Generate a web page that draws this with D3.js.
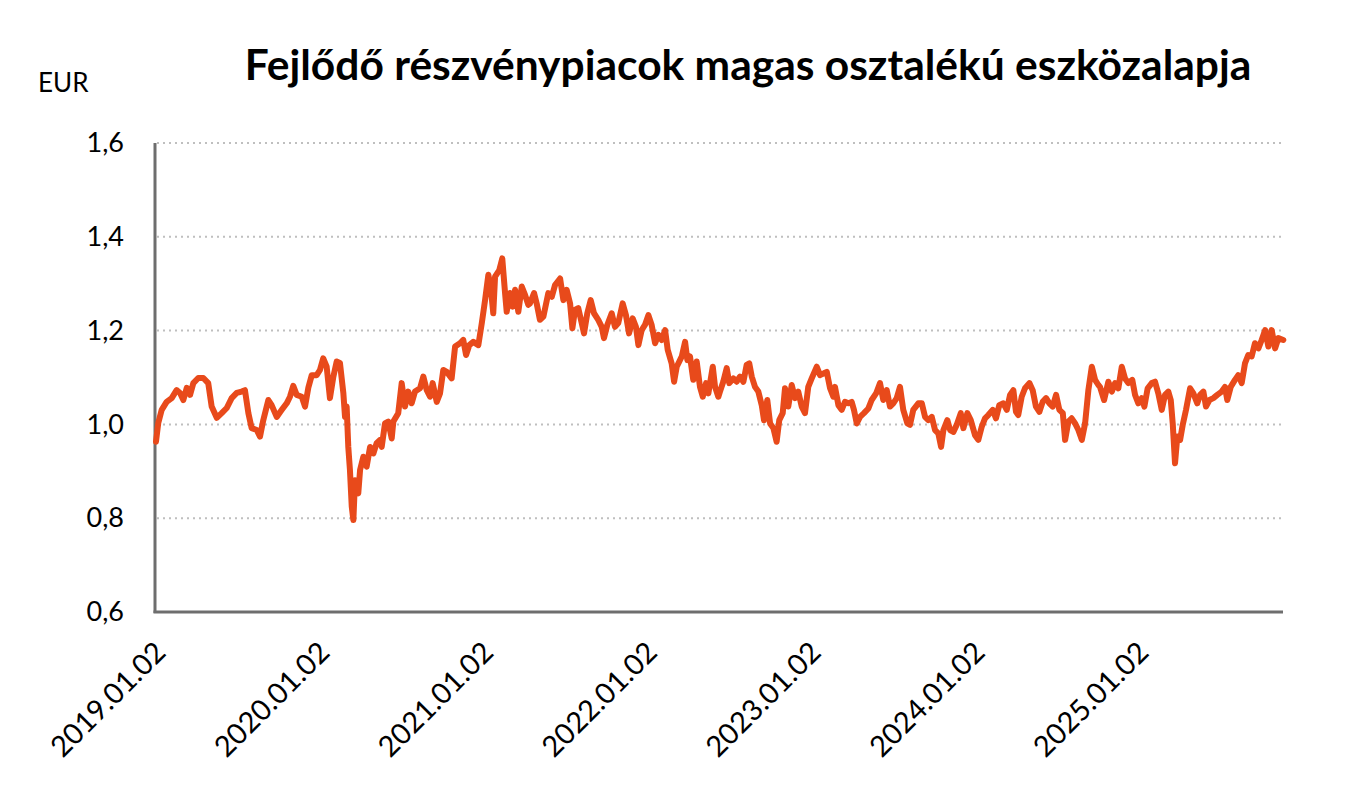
<!DOCTYPE html>
<html>
<head>
<meta charset="utf-8">
<script src="https://cdn.jsdelivr.net/npm/d3@7"></script>
<style>
  html, body { margin: 0; padding: 0; background: #ffffff; }
  svg { display: block; }
  text { font-family: Lato, "Open Sans", "Liberation Sans", sans-serif; fill: #000; }
</style>
</head>
<body>
<svg id="chart" width="1367" height="794"></svg>
<script>
// ---- data ----
const titleText = "Fejlődő részvénypiacok magas osztalékú eszközalapja";
const unitLabel = "EUR";
const startYear = 2019; // 2019.01.02
// time in years since 2019.01.02
const t = [
0.006,0.020,0.041,0.071,0.102,0.132,0.153,0.173,0.194,0.214,0.234,0.264,0.295,0.325,0.346,0.377,0.407,0.438,0.468,0.499,
0.529,0.549,0.570,0.590,0.621,0.641,0.661,0.692,0.712,0.743,0.774,0.804,0.824,0.844,0.865,0.896,0.916,0.936,0.957,0.987,
1.007,1.027,1.048,1.068,1.089,1.109,1.129,1.150,1.160,1.170,1.180,1.190,1.201,1.211,1.221,1.241,1.252,1.272,1.292,1.313,
1.333,1.353,1.374,1.384,1.404,1.424,1.445,1.455,1.485,1.506,1.526,1.546,1.567,1.587,1.618,1.638,1.659,1.679,1.695,1.720,
1.740,1.760,1.781,1.811,1.832,1.862,1.882,1.899,1.919,1.943,1.974,1.995,2.015,2.035,2.049,2.065,2.076,2.102,2.120,2.137,
2.147,2.167,2.184,2.198,2.218,2.239,2.259,2.279,2.289,2.314,2.330,2.350,2.371,2.401,2.422,2.442,2.473,2.493,2.513,2.534,
2.548,2.564,2.584,2.605,2.619,2.639,2.660,2.680,2.706,2.727,2.741,2.761,2.788,2.808,2.828,2.855,2.875,2.894,2.916,2.936,
2.951,2.971,2.991,3.012,3.032,3.053,3.073,3.093,3.114,3.130,3.154,3.169,3.185,3.216,3.236,3.250,3.266,3.286,3.307,3.327,
3.344,3.364,3.378,3.405,3.419,3.439,3.449,3.469,3.490,3.506,3.531,3.551,3.571,3.592,3.612,3.628,3.643,3.663,3.683,3.704,
3.718,3.738,3.755,3.775,3.795,3.811,3.832,3.846,3.866,3.887,3.907,3.927,3.948,3.968,3.988,4.009,4.040,4.060,4.084,4.101,
4.121,4.141,4.151,4.172,4.192,4.212,4.233,4.253,4.267,4.284,4.304,4.328,4.355,4.375,4.402,4.426,4.446,4.467,4.487,4.507,
4.528,4.548,4.568,4.593,4.609,4.629,4.660,4.681,4.701,4.721,4.742,4.762,4.782,4.799,4.813,4.837,4.854,4.874,4.894,4.919,
4.935,4.959,4.980,5.006,5.026,5.047,5.067,5.087,5.114,5.134,5.154,5.179,5.200,5.220,5.240,5.256,5.270,5.291,5.311,5.338,
5.358,5.378,5.399,5.419,5.440,5.460,5.480,5.501,5.521,5.542,5.556,5.576,5.596,5.617,5.637,5.658,5.678,5.698,5.719,5.739,
5.759,5.769,5.794,5.820,5.841,5.861,5.881,5.902,5.922,5.942,5.966,5.983,6.003,6.024,6.040,6.060,6.085,6.105,6.125,6.146,
6.166,6.186,6.201,6.213,6.227,6.241,6.258,6.274,6.294,6.319,6.339,6.363,6.380,6.400,6.416,6.437,6.461,6.485,6.512,6.532,
6.546,6.567,6.593,6.613,6.634,6.654,6.674,6.695,6.715,6.736,6.756,6.777,6.797,6.817,6.838,6.858,6.888
];
const price = [
0.963,1.003,1.031,1.048,1.056,1.073,1.067,1.052,1.078,1.063,1.088,1.099,1.099,1.088,1.038,1.014,1.024,1.035,1.056,1.067,
1.070,1.073,1.024,0.992,0.988,0.974,1.009,1.052,1.041,1.016,1.031,1.045,1.059,1.082,1.063,1.059,1.038,1.078,1.105,1.105,
1.116,1.141,1.123,1.056,1.102,1.134,1.131,1.066,1.016,1.038,0.952,0.903,0.825,0.796,0.881,0.853,0.903,0.931,0.910,0.952,
0.938,0.960,0.967,0.952,1.002,1.006,0.970,1.006,1.024,1.088,1.038,1.070,1.045,1.070,1.077,1.102,1.073,1.059,1.088,1.048,
1.066,1.116,1.112,1.098,1.166,1.173,1.180,1.148,1.169,1.176,1.169,1.216,1.265,1.319,1.294,1.237,1.315,1.329,1.354,1.280,
1.240,1.280,1.251,1.287,1.240,1.294,1.276,1.255,1.258,1.280,1.258,1.223,1.230,1.280,1.272,1.297,1.311,1.265,1.287,1.258,
1.205,1.244,1.248,1.216,1.194,1.237,1.265,1.237,1.223,1.208,1.184,1.212,1.237,1.208,1.216,1.258,1.233,1.194,1.226,1.208,
1.169,1.201,1.212,1.233,1.212,1.173,1.191,1.180,1.201,1.159,1.130,1.091,1.123,1.145,1.176,1.137,1.145,1.095,1.134,1.080,
1.059,1.088,1.066,1.123,1.080,1.059,1.070,1.091,1.120,1.088,1.098,1.091,1.102,1.091,1.127,1.130,1.102,1.080,1.070,1.041,
1.009,1.052,1.002,0.992,0.963,1.009,1.024,1.077,1.038,1.084,1.056,1.070,1.038,1.024,1.080,1.098,1.123,1.105,1.109,1.112,
1.077,1.059,1.080,1.041,1.031,1.048,1.045,1.048,1.031,1.002,1.016,1.024,1.034,1.052,1.066,1.088,1.052,1.073,1.038,1.045,
1.056,1.080,1.031,1.002,0.999,1.031,1.045,1.045,1.016,1.009,1.016,0.988,0.981,0.952,0.988,1.009,0.988,0.984,0.999,1.024,
0.992,1.024,1.009,0.977,0.967,0.995,1.013,1.020,1.031,1.013,1.041,1.045,1.031,1.063,1.073,1.027,1.020,1.059,1.077,1.088,
1.073,1.038,1.027,1.048,1.056,1.045,1.038,1.063,1.031,1.024,0.967,1.006,1.013,1.002,0.988,0.967,1.002,1.073,1.123,1.095,
1.084,1.080,1.052,1.091,1.070,1.088,1.077,1.123,1.098,1.088,1.095,1.063,1.045,1.056,1.038,1.077,1.088,1.091,1.066,1.031,
1.063,1.070,1.052,1.002,0.917,0.974,0.967,0.999,1.031,1.077,1.066,1.045,1.063,1.070,1.038,1.052,1.056,1.063,1.070,1.080,
1.052,1.080,1.095,1.105,1.088,1.130,1.148,1.145,1.173,1.162,1.180,1.201,1.166,1.201,1.162,1.184,1.180
];
const yTicks = [0.6, 0.8, 1.0, 1.2, 1.4, 1.6];
const yTickLabels = ["0,6", "0,8", "1,0", "1,2", "1,4", "1,6"];
const xTicks = [0, 1, 2, 3, 4, 5, 6];
const xTickLabels = ["2019.01.02", "2020.01.02", "2021.01.02", "2022.01.02", "2023.01.02", "2024.01.02", "2025.01.02"];

// ---- layout ----
const svg = d3.select("#chart");
const plot = { left: 155, right: 1283, top: 143, bottom: 612 };
const lineColor = "#E84A1B";
const axisColor = "#6E6E6E";

const x = d3.scaleLinear().domain([0, t[t.length - 1]]).range([plot.left, plot.right + 0.3]);
const y = d3.scaleLinear().domain([0.6, 1.6]).range([plot.bottom, plot.top]);

// gridlines
svg.append("g")
  .selectAll("line")
  .data(yTicks.filter(v => v > 0.6))
  .join("line")
  .attr("x1", plot.left + 2)
  .attr("x2", 1281)
  .attr("y1", d => y(d))
  .attr("y2", d => y(d))
  .attr("stroke", "#BFBFBF")
  .attr("stroke-width", 2)
  .attr("stroke-dasharray", "2,4");

// y axis (labels only, line drawn separately)
const yAxis = d3.axisLeft(y)
  .tickValues(yTicks)
  .tickFormat((d, i) => yTickLabels[i])
  .tickSize(0)
  .tickPadding(31);
const gy = svg.append("g").attr("transform", `translate(${plot.left},0)`).call(yAxis);
gy.select(".domain").remove();
gy.selectAll("text")
  .style("font-family", "Lato, 'Open Sans', sans-serif")
  .style("font-size", "27px")
  .attr("fill", "#000");

// x axis
const xAxis = d3.axisBottom(x)
  .tickValues(xTicks)
  .tickFormat((d, i) => xTickLabels[i])
  .tickSize(0);
const gx = svg.append("g").attr("transform", `translate(0,${plot.bottom})`).call(xAxis);
gx.select(".domain").remove();
gx.selectAll("text")
  .style("font-family", "Lato, 'Open Sans', sans-serif")
  .style("font-size", "29px")
  .attr("fill", "#000")
  .attr("text-anchor", "end")
  .attr("dy", null)
  .attr("y", 0)
  .attr("transform", "translate(12,42) rotate(-45)");

// axis lines
svg.append("line")
  .attr("x1", plot.left).attr("x2", plot.left)
  .attr("y1", plot.top).attr("y2", plot.bottom + 1)
  .attr("stroke", axisColor).attr("stroke-width", 3);
svg.append("line")
  .attr("x1", plot.left - 1.5).attr("x2", plot.right)
  .attr("y1", plot.bottom).attr("y2", plot.bottom)
  .attr("stroke", axisColor).attr("stroke-width", 3);

// series line
const pts = t.map((d, i) => [d, price[i]]);
const line = d3.line().x(d => x(d[0])).y(d => y(d[1]));
svg.append("path")
  .datum(pts)
  .attr("fill", "none")
  .attr("stroke", lineColor)
  .attr("stroke-width", 6)
  .attr("stroke-linejoin", "round")
  .attr("stroke-linecap", "round")
  .attr("d", line);

// unit label
svg.append("text")
  .attr("x", 38).attr("y", 92)
  .style("font-size", "26px")
  .text(unitLabel);

// title
const title = svg.append("text")
  .attr("x", 748).attr("y", 80)
  .attr("text-anchor", "middle")
  .style("font-weight", "bold")
  .style("font-size", "36px")
  .text(titleText);
const w = title.node().getComputedTextLength();
title.style("font-size", (36 * 1007 / w).toFixed(2) + "px");
</script>
</body>
</html>
